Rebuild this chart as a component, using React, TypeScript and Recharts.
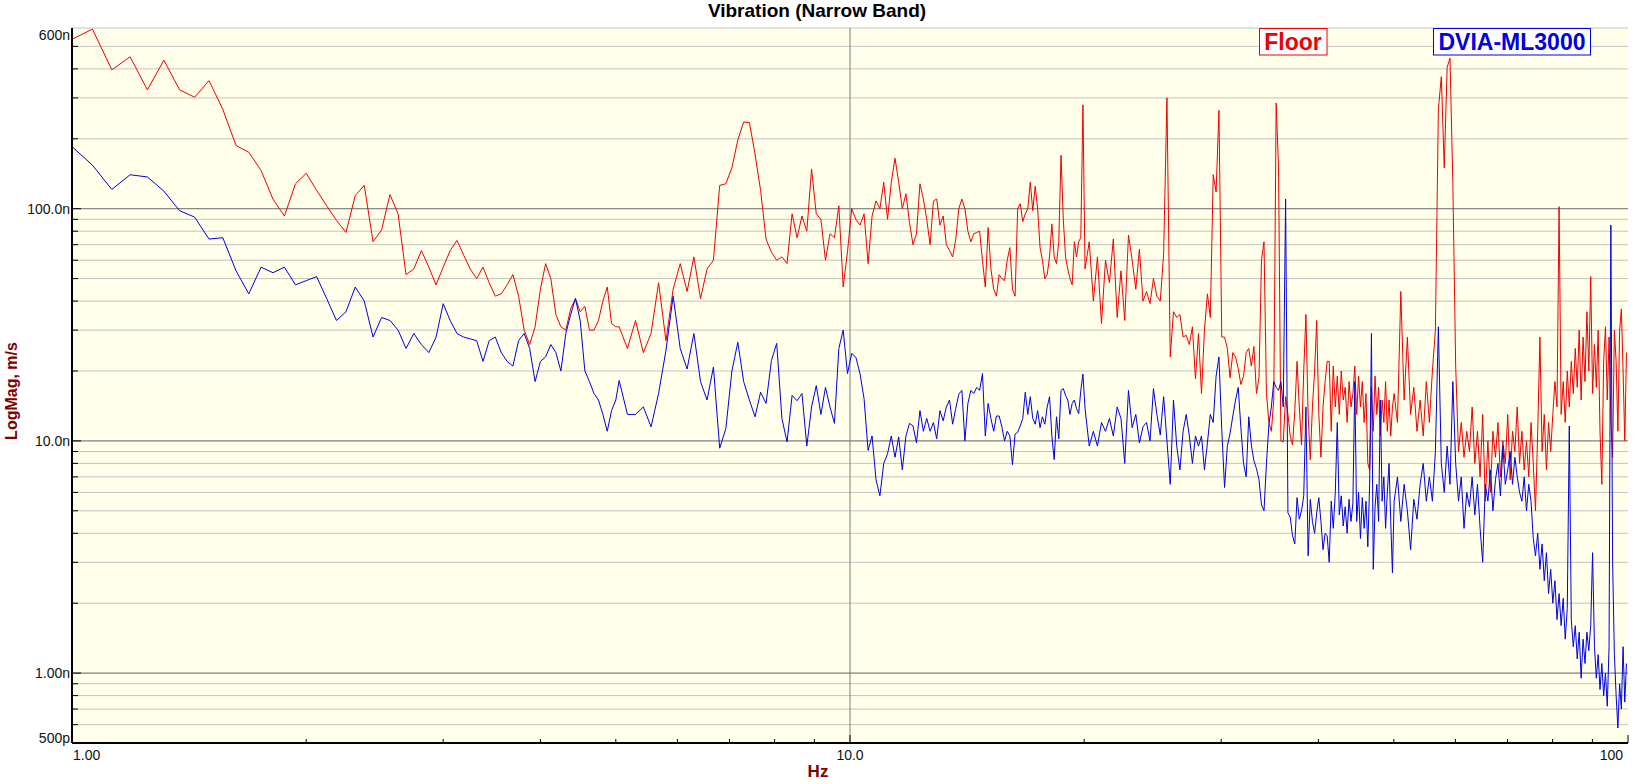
import React from 'react';
import { LineChart, Line, XAxis, YAxis, CartesianGrid, ReferenceLine } from 'recharts';

// FFT bin layout: [first bin Hz, step Hz, bin count]
const BIN_SEGMENTS: [number, number, number][] = [
  [1, 0.0625, 65],
  [5.05, 0.125, 120],
  [20.05, 0.25, 120],
  [50.05, 0.5, 100],
];

const FREQ_HZ: number[] = BIN_SEGMENTS.flatMap(([start, step, count]) =>
  Array.from({ length: count }, (_, i) => +(start + i * step).toFixed(4))
);

// magnitudes in nm/s, one value per bin
const FLOOR_NM: number[] = [
  // 1 - 5 Hz
  537, 593, 396, 451, 325, 436, 325, 302, 356, 268, 187, 175, 146, 110, 93, 128, 142, 120, 103, 89,
  79, 114, 126, 72, 81, 115, 95, 52, 55, 66, 56, 47, 56, 66, 73, 63, 55, 50, 56, 48,
  42, 43, 47, 52, 42, 30, 26, 31, 45, 58, 50, 35, 31, 30, 37, 41, 36, 38, 30, 30,
  33, 40, 46, 32, 31,
  // 5 - 10 Hz
  31, 25, 33, 24, 29, 48, 27, 45, 58, 44, 62, 41, 55, 60, 126, 128, 150, 198, 236, 235,
  172, 120, 74, 65, 60, 62, 58, 95, 75, 93, 80, 148, 95, 90, 60, 78, 75, 103, 46, 65,
  // 10 - 20 Hz
  100, 90, 85, 95, 58, 93, 108, 100, 130, 90, 130, 165, 130, 100, 116, 87, 70, 78, 128, 110,
  90, 70, 108, 110, 85, 93, 70, 66, 62, 74, 100, 110, 100, 80, 72, 78, 79, 80, 60, 46,
  83, 55, 45, 42, 52, 50, 49, 60, 68, 45, 42, 100, 105, 88, 95, 100, 130, 98, 125, 100,
  68, 60, 50, 52, 62, 86, 62, 58, 72, 170, 90, 62, 55, 50, 47, 72, 62, 72, 75, 280,
  // 20 - 50 Hz
  55, 72, 40, 62, 32, 60, 48, 74, 34, 54, 33, 77, 60, 45, 67, 40, 44, 39, 50, 42,
  40, 64, 300, 23, 36, 34, 35, 28, 28.5, 26, 31, 18.5, 29, 16, 30, 43, 34, 140, 118, 265,
  28, 28, 25, 18.7, 24, 23, 20.5, 17.5, 19, 24, 25, 21, 25.5, 16, 18.7, 60, 72, 16, 12, 11,
  15, 285, 150, 10, 9.9, 15.5, 13, 10.5, 9.6, 13.5, 22, 14, 9.6, 20, 35, 13, 8.3, 14, 20, 33,
  13, 8.5, 14, 18, 22, 22, 11, 21, 14, 19, 13, 20, 15, 17, 12, 18, 14, 16, 21, 13,
  19, 14, 18, 12, 16, 8, 7.5, 17, 11, 19, 13, 17, 10.5, 15, 12, 18, 11, 15, 10.5, 14,
  // 50 - 100 Hz
  16, 12, 44, 15, 28, 13, 17, 11, 15, 10.5, 18, 12, 20, 30, 268, 370, 150, 406, 445, 128,
  21, 9, 12, 8.5, 11, 9, 14, 8, 11, 7, 13, 5.5, 10, 6, 11, 8.5, 12, 7, 10, 8,
  13, 6.8, 11, 9, 14, 8, 11, 7.5, 10, 7, 12, 8, 5, 11, 28, 9, 13, 7.5, 12, 9,
  13, 18, 14, 102, 13, 18, 12, 20, 14, 22, 16, 25, 17, 30, 15, 28, 18, 36, 20, 51,
  16, 26, 17, 30, 11, 6.5, 22, 31, 15, 28, 12, 8.5, 30, 22, 11, 30, 37, 20, 10, 24,
];

const DVIA_NM: number[] = [
  // 1 - 5 Hz
  185, 154, 121, 140, 137, 119, 98, 92, 74, 75, 54, 43, 56, 53, 56, 47, 49, 51, 41, 33,
  36, 46, 40, 28, 34, 33, 30, 25, 29, 26, 24, 28, 39, 33, 29, 28, 27.5, 27, 22, 27,
  28, 24, 22, 21, 27, 29, 25, 18, 22, 23, 26, 24, 20, 29, 35, 41, 33, 20, 18, 16,
  15, 13, 11, 13.5, 15,
  // 5 - 10 Hz
  18.2, 13, 13, 14, 11.5, 16, 24.5, 42, 25, 20.4, 29, 18, 15, 20.8, 9.3, 11.3, 20, 26.6, 18, 15,
  12.7, 16.2, 14.5, 22.2, 26.3, 12.5, 9.9, 15.7, 14.9, 16, 9.5, 14, 17.3, 13, 17, 14, 11.9, 25, 30, 19.5,
  // 10 - 20 Hz
  23.8, 22.9, 19.5, 15.2, 9.1, 10.5, 6.8, 5.8, 8, 8.8, 10.5, 8.5, 10.4, 7.5, 10.5, 11.9, 11.6, 9.8, 13.5, 11,
  12.5, 11, 12, 10.2, 13.5, 12.2, 14, 15, 11.8, 13.8, 15.9, 16.5, 10, 14.5, 16.5, 16, 17, 16.5, 19.5, 10.5,
  14.5, 12.5, 11, 12.8, 12.8, 11.5, 10, 11, 10.5, 7.9, 10.7, 10.9, 11.6, 12.5, 16.2, 13, 15.5, 12.5, 11.8, 13.5,
  11.4, 12.7, 11.8, 14, 15.5, 10.5, 8.3, 12.7, 10.2, 16.5, 16.8, 15.7, 15, 13, 14.5, 15, 13.8, 13.1, 16.5, 19.4,
  // 20 - 50 Hz
  13.8, 9.5, 11, 9.5, 12, 11, 12.5, 10.5, 14, 12.5, 8, 16.5, 11.4, 13, 9.8, 11.5, 12, 10, 16.8, 13,
  10.6, 15.5, 10, 6.5, 15, 9.5, 7.5, 11, 13, 10.5, 8, 10.5, 9.5, 10.5, 7.5, 9.8, 13, 12, 19, 23,
  11.2, 6.3, 9.5, 10.8, 12.8, 15, 17, 11.4, 8, 7, 12.7, 9.6, 8.2, 7.6, 6.8, 5.3, 5.0, 8, 11.8, 14,
  18, 17, 16.5, 18, 14, 110, 4.9, 4.7, 3.9, 3.6, 5.7, 4.6, 5.0, 5.8, 14, 3.2, 5.6, 4.5, 4.0, 4.9,
  5.7, 4.5, 3.4, 4.0, 3.9, 3.0, 5.5, 4.2, 6, 12, 4.8, 5.8, 4.3, 5.2, 4.0, 5.6, 4.5, 5.4, 18, 4.5,
  6, 3.8, 5.7, 4.2, 5.5, 3.5, 6.5, 29, 2.8, 5.2, 6.5, 4.5, 15, 5.5, 7, 4.2, 6, 8, 4.5, 2.7,
  // 50 - 100 Hz
  5.5, 7, 4.5, 6.5, 5.0, 3.4, 5.6, 4.6, 6.5, 8, 5.5, 7, 5.5, 9, 31, 8, 6, 9.5, 6.5, 18,
  8, 5.5, 7, 4.2, 6, 5.2, 7, 4.8, 6.5, 4.2, 3.0, 6.5, 5.5, 7.5, 5, 6.8, 8, 5.8, 9.5, 6.5,
  7.5, 9, 6.5, 8.5, 7, 6, 5.5, 7, 5, 6.5, 5.5, 3.8, 3.2, 4, 2.8, 3.6, 2.5, 3.3, 2.2, 2.8,
  2.0, 2.5, 1.7, 2.2, 1.6, 2.1, 1.4, 1.9, 11.6, 1.7, 1.3, 1.6, 1.15, 1.5, 0.95, 1.4, 1.1, 1.5, 1.25, 1.6,
  3.3, 1.3, 0.95, 1.2, 0.85, 1.1, 0.8, 1.0, 0.72, 1.3, 85, 3.0, 1.2, 0.8, 0.58, 0.9, 0.7, 1.3, 0.75, 1.1,
];

const X_TICKS = [1, 2, 3, 4, 5, 6, 7, 8, 9, 10, 20, 30, 40, 50, 60, 70, 80, 90, 100];
const X_LABELS: Record<number, string> = { 1: '1.00', 10: '10.0', 100: '100' };

const Y_TICKS = [
  0.5, 0.6, 0.7, 0.8, 0.9, 1, 2, 3, 4, 5, 6, 7, 8, 9,
  10, 20, 30, 40, 50, 60, 70, 80, 90, 100, 200, 300, 400, 500, 600,
];
const Y_MAJOR = [1, 10, 100];
const Y_LABELS: Record<number, string> = { 600: '600n', 100: '100.0n', 10: '10.0n', 1: '1.00n', 0.5: '500p' };

const FONT = '"Liberation Sans", Arial, sans-serif';
const W = 1635;
const H = 784;

const data = FREQ_HZ.map((f, i) => ({ f, floor: FLOOR_NM[i], dvia: DVIA_NM[i] }));

function XTick(props: any) {
  const { x, y, payload } = props;
  const v = payload.value;
  const label = X_LABELS[v];
  const anchor = v === 1 ? 'start' : v === 100 ? 'end' : 'middle';
  const tx = v === 1 ? x + 1 : v === 100 ? x - 5 : x;
  return (
    <g>
      <line x1={x} x2={x} y1={y} y2={y - (label ? 8 : 4)} stroke="#000" />
      {label && (
        <text x={tx} y={y + 17} textAnchor={anchor} fontSize={14} fontFamily={FONT} fill="#111">
          {label}
        </text>
      )}
    </g>
  );
}

function YTick(props: any) {
  const { x, y, payload } = props;
  const v = payload.value;
  const label = Y_LABELS[v];
  const edge = v === 600 || v === 0.5;
  const dy = v === 600 ? 12 : v === 0.5 ? 0 : 5;
  return (
    <g>
      {!edge && <line x1={x} x2={x + (Y_MAJOR.includes(v) ? 9 : 6)} y1={y} y2={y} stroke="#000" />}
      {label && (
        <text x={x - 2} y={y + dy} textAnchor="end" fontSize={14} fontFamily={FONT} fill="#111">
          {label}
        </text>
      )}
    </g>
  );
}

export default function App() {
  return (
    <div style={{ position: 'absolute', left: 0, top: 0, width: W, height: H, background: '#fff' }}>
      <LineChart width={W} height={H} data={data} margin={{ top: 28, right: 7, bottom: 0, left: 0 }}>
        <CartesianGrid fill="#ffffea" stroke="#c3c3c3" vertical={false} />
        {Y_MAJOR.map((v) => (
          <ReferenceLine key={`ym-${v}`} y={v} stroke="#7c7c7c" />
        ))}
        <ReferenceLine x={10} stroke="#7c7c7c" />
        <XAxis
          dataKey="f"
          type="number"
          scale="log"
          domain={[1, 100]}
          ticks={X_TICKS}
          interval={0}
          allowDataOverflow
          tickSize={0}
          tickMargin={0}
          tick={XTick}
          height={41}
          axisLine={{ stroke: '#000', strokeWidth: 2 }}
        />
        <YAxis
          type="number"
          scale="log"
          domain={[0.5, 600]}
          ticks={Y_TICKS}
          interval={0}
          allowDataOverflow
          tickSize={0}
          tickMargin={0}
          tick={YTick}
          width={72}
          axisLine={{ stroke: '#000', strokeWidth: 2 }}
        />
        <Line dataKey="floor" stroke="#f00000" strokeWidth={1} dot={false} type="linear" isAnimationActive={false} />
        <Line dataKey="dvia" stroke="#0000e6" strokeWidth={1} dot={false} type="linear" isAnimationActive={false} />
      </LineChart>

      <svg width={W} height={H} style={{ position: 'absolute', left: 0, top: 0, pointerEvents: 'none' }}>
        <text x={817} y={17} textAnchor="middle" fontSize={19} fontWeight="bold" fontFamily={FONT} fill="#000">
          Vibration (Narrow Band)
        </text>
        <text x={818} y={777} textAnchor="middle" fontSize={17} fontWeight="bold" fontFamily={FONT} fill="#800000">
          Hz
        </text>
        <text
          transform="translate(17,391) rotate(-90)"
          textAnchor="middle"
          fontSize={16}
          fontWeight="bold"
          fontFamily={FONT}
          fill="#800000"
        >
          LogMag, m/s
        </text>
        <rect x={1259.5} y={28.5} width={67.5} height={26.5} fill="#fff" stroke="#f00000" />
        <text x={1293} y={50} textAnchor="middle" fontSize={23} fontWeight="bold" fontFamily={FONT} fill="#f00000">
          Floor
        </text>
        <rect x={1433.5} y={28.5} width={157} height={26.5} fill="#fff" stroke="#0000e6" />
        <text x={1512} y={50} textAnchor="middle" fontSize={23} fontWeight="bold" fontFamily={FONT} fill="#0000e6">
          DVIA-ML3000
        </text>
      </svg>
    </div>
  );
}
